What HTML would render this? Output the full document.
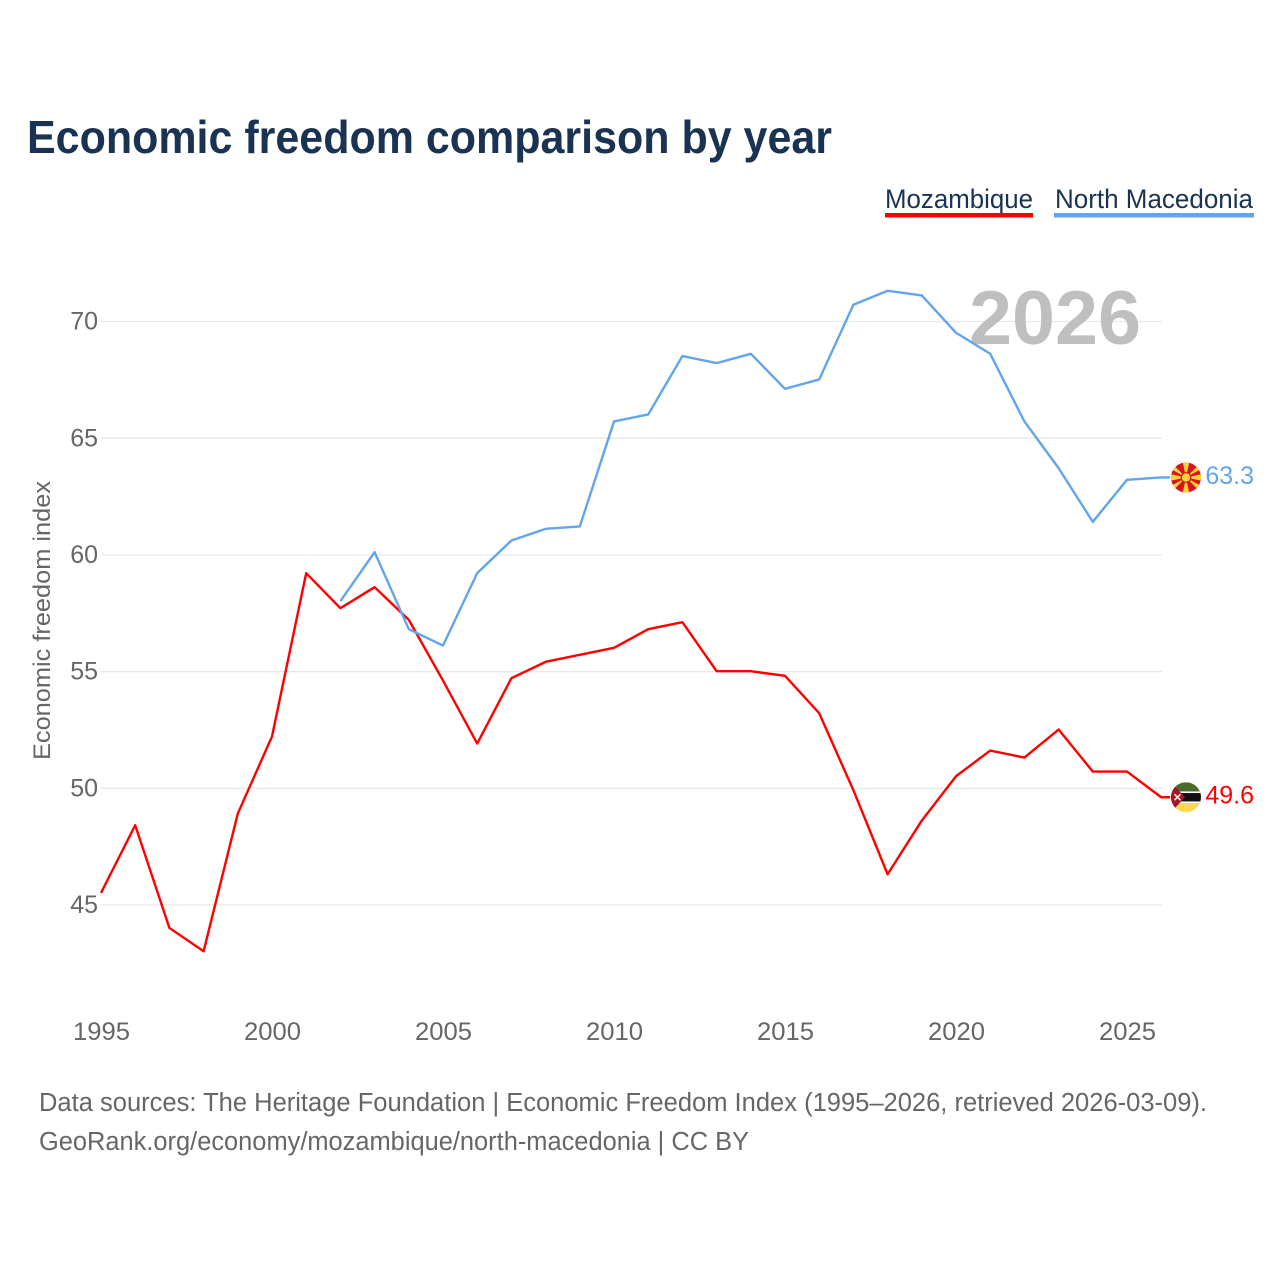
<!DOCTYPE html>
<html lang="en">
<head>
<meta charset="utf-8">
<title>Economic freedom comparison by year</title>
<style>
html,body{margin:0;padding:0;background:#fff;width:1280px;height:1280px;overflow:hidden}
svg{display:block}
text{font-family:"Liberation Sans",sans-serif}
</style>
</head>
<body>
<svg id="chart" width="1280" height="1280" viewBox="0 0 1280 1280" xmlns="http://www.w3.org/2000/svg">
  <defs>
    <clipPath id="clip-nm"><circle cx="0" cy="0" r="15"/></clipPath>
    <clipPath id="clip-mz"><circle cx="0" cy="0" r="15"/></clipPath>
  </defs>
  <text x="27" y="153" font-size="46" font-weight="700" fill="#1a3352" textLength="805" lengthAdjust="spacingAndGlyphs">Economic freedom comparison by year</text>

  <g>
    <g>
      <text x="885" y="208" font-size="27" fill="#1a3352" textLength="148" lengthAdjust="spacingAndGlyphs">Mozambique</text>
      <rect x="885" y="213" width="148" height="4.5" fill="#ff0000"/>
    </g>
    <g>
      <text x="1055" y="208" font-size="27" fill="#1a3352" textLength="198" lengthAdjust="spacingAndGlyphs">North Macedonia</text>
      <rect x="1054" y="213" width="200" height="4.5" fill="#62a5ec"/>
    </g>
  </g>

  <g id="grid"></g>
  <g id="y-ticks"></g>
  <g id="x-ticks"></g>

  <text x="969" y="344" font-size="76" font-weight="700" fill="#bfbfbf" textLength="172" lengthAdjust="spacingAndGlyphs">2026</text>

  <text transform="translate(50,620.5) rotate(-90)" text-anchor="middle" font-size="24.5" fill="#666666" textLength="279" lengthAdjust="spacingAndGlyphs">Economic freedom index</text>

  <g id="series"></g>

  <g id="flag-nm">
    <g clip-path="url(#clip-nm)">
      <rect x="-15" y="-15" width="30" height="30" fill="#d8141e"/>
      <g fill="#fbd23a">
        <polygon points="-3.2,-15 3.2,-15 0,0"/>
        <polygon points="-3.2,15 3.2,15 0,0"/>
        <polygon points="-15,-3.2 -15,3.2 0,0"/>
        <polygon points="15,-3.2 15,3.2 0,0"/>
        <polygon points="-15,-15 -8.5,-15 -15,-8.5 0,0"/>
        <polygon points="15,-15 8.5,-15 15,-8.5 0,0"/>
        <polygon points="-15,15 -8.5,15 -15,8.5 0,0"/>
        <polygon points="15,15 8.5,15 15,8.5 0,0"/>
      </g>
      <circle r="5.4" fill="#d8141e"/>
      <circle r="4.2" fill="#fbd23a"/>
    </g>
  </g>

  <g id="flag-mz">
    <g clip-path="url(#clip-mz)">
      <rect x="-15" y="-15" width="30" height="10" fill="#4d6b2a"/>
      <rect x="-15" y="-5" width="30" height="10" fill="#111111"/>
      <rect x="-15" y="5" width="30" height="10" fill="#fcd94a"/>
      <rect x="-15" y="-5.8" width="30" height="1.6" fill="#ffffff"/>
      <rect x="-15" y="4.2" width="30" height="1.6" fill="#ffffff"/>
      <polygon points="-15,-15 -1,0 -15,15" fill="#a3142f"/>
      <path d="M-11.5,-3 L-5.5,3 M-5.5,-3 L-11.5,3" stroke="#f4e9c8" stroke-width="1.6"/>
    </g>
  </g>

  <g id="end-labels"></g>

  <text x="39" y="1111" font-size="25.5" fill="#666666" textLength="1168" lengthAdjust="spacingAndGlyphs">Data sources: The Heritage Foundation | Economic Freedom Index (1995–2026, retrieved 2026-03-09).</text>
  <text x="39" y="1150" font-size="25.5" fill="#666666" textLength="710" lengthAdjust="spacingAndGlyphs">GeoRank.org/economy/mozambique/north-macedonia | CC BY</text>
</svg>

<script>
const years = [1995,1996,1997,1998,1999,2000,2001,2002,2003,2004,2005,2006,2007,2008,2009,2010,2011,2012,2013,2014,2015,2016,2017,2018,2019,2020,2021,2022,2023,2024,2025,2026];
const mozambique = [45.5,48.4,44.0,43.0,48.9,52.2,59.2,57.7,58.6,57.2,54.6,51.9,54.7,55.4,55.7,56.0,56.8,57.1,55.0,55.0,54.8,53.2,49.9,46.3,48.6,50.5,51.6,51.3,52.5,50.7,50.7,49.6];
const northMacedonia = [null,null,null,null,null,null,null,58.0,60.1,56.8,56.1,59.2,60.6,61.1,61.2,65.7,66.0,68.5,68.2,68.6,67.1,67.5,70.7,71.3,71.1,69.5,68.6,65.7,63.7,61.4,63.2,63.3];
const yTickValues = [45,50,55,60,65,70];
const xTickValues = [1995,2000,2005,2010,2015,2020,2025];

const NS = 'http://www.w3.org/2000/svg';
function xScale(year) { return 101 + (year - 1995) * 34.2; }
function yScale(value) { return 904.6 - (value - 45) * 23.34; }
function make(tag, attrs, parent) {
  const el = document.createElementNS(NS, tag);
  for (const k in attrs) el.setAttribute(k, attrs[k]);
  parent.appendChild(el);
  return el;
}

const gridG = document.getElementById('grid');
const yG = document.getElementById('y-ticks');
yTickValues.forEach(function (v) {
  const line = make('line', {x1: 101, x2: 1162, y1: yScale(v) + 0.4, y2: yScale(v) + 0.4, stroke: '#e8e8e8', 'stroke-width': 1.3}, gridG);
  
  
  const t = make('text', {x: 98, y: yScale(v) + 8.5, 'text-anchor': 'end', 'font-size': 25, fill: '#666666'}, yG);
  
  
  t.textContent = v;
});

const xG = document.getElementById('x-ticks');
xTickValues.forEach(function (v) {
  const t = make('text', {x: xScale(v) + 0.5, y: 1040, 'text-anchor': 'middle', 'font-size': 25, fill: '#666666', textLength: 57, lengthAdjust: 'spacingAndGlyphs'}, xG);
  
  
  t.textContent = v;
});

function drawLine(values, color, name) {
  let d = '';
  let lastX = 0, lastY = 0;
  values.forEach(function (v, i) {
    if (v === null) return;
    lastX = xScale(years[i]);
    lastY = yScale(v);
    d += (d ? 'L' : 'M') + lastX.toFixed(2) + ' ' + lastY.toFixed(2);
  });
  d += 'L' + (lastX + 9) + ' ' + lastY.toFixed(2);
  const p = make('path', {d: d, fill: 'none', stroke: color, 'stroke-width': 2.4, 'stroke-linejoin': 'round'}, document.getElementById('series'));
  
  
}
drawLine(mozambique, '#ff0000', 'line-mozambique');
drawLine(northMacedonia, '#62a5ec', 'line-north-macedonia');

function placeEnd(values, color, flagId, labelName) {
  const last = values[values.length - 1];
  const y = yScale(last);
  document.getElementById(flagId).setAttribute('transform', 'translate(1186,' + y.toFixed(2) + ')');
  const t = make('text', {x: 1254, y: y + 6.5, 'text-anchor': 'end', 'font-size': 25, fill: color}, document.getElementById('end-labels'));
  
  
  t.textContent = last.toFixed(1);
}
placeEnd(mozambique, '#ff0000', 'flag-mz', 'end-label-mozambique');
placeEnd(northMacedonia, '#62a5ec', 'flag-nm', 'end-label-north-macedonia');
</script>
</body>
</html>
